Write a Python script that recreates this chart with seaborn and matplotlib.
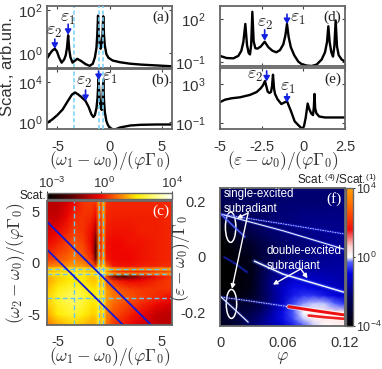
import numpy as np
import pandas as pd
import matplotlib
matplotlib.use("Agg")
import matplotlib.pyplot as plt
from matplotlib.colors import LinearSegmentedColormap
from matplotlib.patches import Ellipse
import seaborn as sns

# ---- curves (x, log10 of scattered intensity)
a_x = [-6, -5.8, -5.6, -5.45, -5.25, -5.05, -4.85, -4.6, -4.35, -4.2, -4.08, -3.97, -3.86, -3.75, -3.55, -3.3, -3.1, -2.7, -2.3, -1.9, -1.6, -1.4, -1.25, -1.17, -1.1, -1.03, -0.95, -0.85, -0.75, -0.67, -0.6, -0.53, -0.45, -0.3, -0.1, 0.3, 1, 2, 3, 4.5, 6]
a_y = [-0.25, -0.1, 0.05, 0.13, 0.2, 0.08, -0.2, -0.45, -0.3, -0.1, 0.25, 0.83, 0.15, -0.2, -0.45, -0.35, -0.27, -0.38, -0.52, -0.6, -0.5, -0.2, 0.25, 0.9, 1.75, 0.9, 0.45, 0.2, 0.4, 0.85, 1.72, 0.85, 0.35, -0.05, -0.22, -0.35, -0.43, -0.5, -0.54, -0.58, -0.62]
b_x = [-6, -5.5, -5, -4.5, -4, -3.6, -3.3, -3, -2.7, -2.3, -2, -1.75, -1.55, -1.4, -1.25, -1.15, -1.05, -0.95, -0.85, -0.75, -0.67, -0.6, -0.53, -0.45, -0.3, -0.15, 0, 0.3, 0.6, 1, 2, 3, 4.5, 6]
b_y = [-0.1, 0.25, 0.7, 1.25, 2.1, 2.75, 2.95, 2.75, 2.5, 2.1, 1.5, 0.8, 0.5, 0.7, 1.4, 2.4, 4.3, 2.4, 1.4, 1.2, 2.2, 4.2, 2.2, 1.0, 0.1, -0.3, -0.55, -0.72, -0.72, -0.55, -0.35, -0.28, -0.25, -0.25]
d_x = [-5, -4.6, -4.2, -3.9, -3.72, -3.6, -3.48, -3.38, -3.28, -3.2, -3.13, -3.06, -2.98, -2.88, -2.75, -2.55, -2.32, -2.1, -1.85, -1.62, -1.4, -1.2, -1.08, -0.98, -0.88, -0.75, -0.55, -0.3, -0.1, 0.2, 0.5, 0.8, 1.1, 1.3, 1.42, 1.5, 1.58, 1.68, 1.78, 1.86, 1.94, 2.02, 2.12, 2.3, 2.5]
d_y = [-0.55, -0.7, -0.72, -0.55, -0.2, 0.4, 1.66, 0.2, -0.35, -0.45, 0.2, 2.5, 0.45, -0.02, -0.05, 0.1, 0.43, 0.05, -0.2, -0.3, -0.15, 0.25, 0.85, 1.66, 0.75, 0.05, -0.5, -0.95, -1.12, -1.22, -1.25, -1.15, -0.8, -0.3, 0.4, 1.5, 0.4, -0.3, -0.6, 0.1, 1.9, 0.1, -0.5, -0.8, -0.95]
e_x = [-5, -4.7, -4.3, -3.8, -3.2, -2.8, -2.55, -2.42, -2.3, -2.22, -2.14, -2.04, -1.94, -1.88, -1.82, -1.76, -1.7, -1.55, -1.32, -1.15, -0.98, -0.88, -0.75, -0.52, -0.3, -0.06, 0.04, 0.14, 0.26, 0.36, 0.48, 0.58, 0.63, 0.67, 0.71, 0.78, 0.95, 1.3, 2.5]
e_y = [1.15, 1.4, 1.55, 1.65, 1.9, 2.2, 2.6, 2.9, 3.35, 2.8, 2.25, 2.1, 2.2, 2.8, 4.0, 2.6, 2.0, 1.45, 0.95, 1.1, 1.25, 0.8, 0.25, -0.85, -1.25, -1.65, -1.35, -0.5, 1.0, 0.4, -0.05, -0.2, 0.6, 2.0, 0.5, 0.0, -0.35, -0.45, -0.45]

# ---- panel (c) map: log10 scattering, symmetric in omega1/omega2 (lower triangle)
c_grid = [-6, -5, -4, -3.4, -2.5, -1.7, -1.3, -1.02, -0.82, -0.6, -0.3, 0.3, 1, 2, 3, 4.5, 6]
c_rows = [
 [1.0],
 [1.4, 2.0],
 [1.7, 2.3, 2.5],
 [1.8, 2.4, 2.7, 2.8],
 [1.6, 2.1, 2.4, 2.5, 2.3],
 [1.4, 1.8, 2.0, 2.1, 2.0, 1.7],
 [1.5, 1.8, 2.0, 2.1, 2.0, 1.7, 1.8],
 [2.1, 2.4, 2.5, 2.6, 2.5, 2.3, 2.5, 2.9],
 [1.5, 1.7, 1.8, 1.9, 1.8, 1.5, 1.6, 2.6, 1.8],
 [2.1, 2.3, 2.4, 2.5, 2.4, 2.2, 2.3, 3.0, 2.7, 3.0],
 [1.0, 1.2, 1.3, 1.4, 1.3, 0.9, 0.5, 2.0, 1.2, 2.2, 1.0],
 [0.5, 0.7, 0.9, 1.1, 0.9, 0.4, -1.2, 1.5, 0.5, 1.7, 0.2, 0.0],
 [0.2, 0.5, 0.7, 0.9, 0.7, 0.1, -1.9, 1.3, 0.3, 1.5, 0.1, 0.0, 0.0],
 [0.0, 0.2, 0.5, 0.7, 0.5, -0.1, -1.5, 1.2, 0.2, 1.4, 0.1, 0.0, 0.0, 0.1],
 [-0.3, 0.0, 0.3, 0.5, 0.4, 0.0, -0.8, 1.2, 0.2, 1.4, 0.2, 0.1, 0.1, 0.1, 0.2],
 [-0.5, -0.5, 0.0, 0.3, 0.4, 0.3, 0.0, 1.2, 0.4, 1.5, 0.3, 0.2, 0.2, 0.2, 0.2, 0.2],
 [-0.6, -0.6, -0.3, 0.0, 0.4, 0.5, 0.4, 1.3, 0.6, 1.6, 0.4, 0.3, 0.3, 0.3, 0.3, 0.3, 0.3],
]
c_marks = [-3.4, -1.05, -0.6]
c_sums = [-2.0, -4.7]

# ---- panel (f) map: log10 ratio
f_phi = [0, .01, .02, .03, .04, .05, .06, .07, .08, .09, .10, .11, .12]
f_eps = [.25, .2, .15, .1, .05, 0, -.05, -.08, -.11, -.14, -.17, -.2, -.225, -.25]
f_map = [
 [-2.5, -2.4, -2.4, -2.4, -2.3, -2.3, -2.3, -2.2, -2.2, -2.2, -2.2, -2.2, -2.2],
 [-2.6, -2.5, -2.4, -2.4, -2.3, -2.3, -2.2, -2.2, -2.2, -2.2, -2.2, -2.1, -2.1],
 [-3.0, -2.6, -2.5, -2.4, -2.3, -2.2, -2.1, -2.1, -2.0, -2.0, -2.0, -2.0, -2.0],
 [-3.8, -3.4, -3.0, -2.6, -2.4, -2.2, -2.1, -2.0, -2.0, -1.9, -1.9, -1.9, -1.9],
 [-4.0, -3.8, -3.5, -3.2, -2.8, -2.5, -2.3, -2.2, -2.1, -2.0, -1.9, -1.8, -1.8],
 [-4.0, -3.9, -3.7, -3.5, -3.0, -2.6, -2.4, -2.2, -2.1, -2.0, -1.9, -1.8, -1.8],
 [-4.0, -4.0, -3.8, -3.6, -2.8, -2.2, -1.8, -1.6, -1.6, -1.6, -1.6, -1.6, -1.6],
 [-4.0, -4.0, -3.8, -3.6, -2.7, -2.0, -1.6, -1.2, -1.2, -1.3, -1.4, -1.5, -1.6],
 [-4.0, -4.0, -3.8, -3.6, -2.7, -1.9, -1.3, -0.9, -0.9, -1.0, -1.2, -1.3, -1.4],
 [-3.8, -3.8, -3.7, -3.4, -2.7, -2.0, -1.3, -0.8, -0.6, -0.6, -0.8, -1.0, -1.2],
 [-3.2, -3.2, -3.2, -3.1, -2.6, -1.9, -1.2, -0.5, -0.2, -0.1, -0.1, -0.3, -0.6],
 [-3.3, -3.2, -3.0, -2.8, -2.3, -1.6, -0.9, -0.4, 0.0, 0.2, 0.3, 0.3, 0.3],
 [-3.4, -3.2, -2.9, -2.5, -2.0, -1.4, -0.9, -0.5, -0.1, 0.2, 0.3, 0.3, 0.5],
 [-3.4, -3.2, -2.8, -2.3, -1.9, -1.6, -1.2, -0.8, -0.4, -0.1, 0.0, 0.1, 0.2],
]
# ridge lines of panel (f): phi, eps
r1_phi, r1_eps = [0.001, 0.0605, 0.1185], [0.155, 0.12, 0.084]
r2_phi, r2_eps = [0.001, 0.0605, 0.1185], [0.155, 0.095, 0.029]
r3_phi, r3_eps = [0.001, 0.012, 0.024], [0.155, 0.115, 0.073]
r4_phi, r4_eps = [0.004, 0.015, 0.026], [0.0, -0.025, -0.055]
r5_phi, r5_eps = [0.033, 0.0605, 0.1185], [-0.015, -0.062, -0.127]
r6_phi, r6_eps = [0.001, 0.03, 0.066], [-0.145, -0.16, -0.18]
r7_phi, r7_eps = [0.001, 0.014, 0.027], [-0.145, -0.19, -0.236]
r8_phi, r8_eps = [0.066, 0.09, 0.1195], [-0.18, -0.194, -0.21]
r9_phi, r9_eps = [0.085, 0.10, 0.1195], [-0.212, -0.218, -0.224]

tick_ab = [-5, 0, 5]
tick_de = [-5, -2.5, 0, 2.5]
tick_de_labels = ["-5", "-2.5", "0", "2.5"]
tick_f_phi = [0, 0.06, 0.12]
tick_f_phi_labels = ["0", "0.06", "0.12"]
tick_f_eps = [-0.2, 0, 0.2]
tick_f_eps_labels = ["-0.2", "0", "0.2"]

sns.set_style("white")
plt.rcParams.update({
    "font.family": ["Liberation Sans", "DejaVu Sans"],
    "mathtext.fontset": "cm",
    "axes.unicode_minus": False,
    "text.color": "#333333",
    "axes.labelcolor": "#333333",
    "xtick.color": "#333333",
    "ytick.color": "#333333",
})

W, H = 382, 369
fig = plt.figure(figsize=(W / 100, H / 100), dpi=100)


def box(x0, y0, x1, y1):
    ax = fig.add_axes([x0 / W, 1 - y1 / H, (x1 - x0) / W, (y1 - y0) / H])
    for s in ax.spines.values():
        s.set_visible(True)
        s.set_color("#666666")
        s.set_linewidth(1.3)
    ax.tick_params(direction="in", length=2, width=0.8, labelsize=10.5,
                   bottom=True, left=True, top=True, right=True, color="#444444")
    ax.tick_params(axis="x", pad=7)
    ax.tick_params(axis="y", pad=3)
    return ax


def sup(n):
    return "10$^{\\mathregular{%s}}$" % n


def curve(ax, xs, ys, xlim, ylim, yticks):
    df = pd.DataFrame({"x": xs, "y": 10.0 ** np.array(ys)})
    sns.lineplot(data=df, x="x", y="y", ax=ax, color="black", lw=1.7,
                 estimator=None, sort=False, errorbar=None)
    ax.set_yscale("log")
    ax.set_xlim(*xlim)
    ax.set_ylim(10.0 ** ylim[0], 10.0 ** ylim[1])
    ax.set_yticks([10.0 ** t for t in yticks])
    ax.set_yticklabels([sup(t) for t in yticks], fontsize=11)
    ax.minorticks_off()
    ax.set_xlabel("")
    ax.set_ylabel("")


def arrow(ax, x, y0, y1):
    ax.annotate("", xy=(x, 10.0 ** y1), xytext=(x, 10.0 ** y0),
                arrowprops=dict(arrowstyle="-|>,head_width=0.18,head_length=0.3",
                                color="#1420e0", lw=1.2, shrinkA=0, shrinkB=0))


def eps(px, py, s):
    fig.text(px / W, 1 - py / H, s, fontsize=13, color="#222222", ha="center", va="center")


def tag(ax, s, color="#222222", y=0.82, x=0.98):
    ax.text(x, y, s, transform=ax.transAxes, family="Liberation Serif", fontsize=11,
            ha="right", va="center", color=color)


E1, E2 = r"$\varepsilon_1$", r"$\varepsilon_2$"
XL = r"$(\omega_1-\omega_0)/(\varphi\Gamma_0)$"
lab_kw = dict(fontsize=12.5, labelpad=-4)

# panel a
a = box(47, 6, 172, 68)
curve(a, a_x, a_y, (-6, 6), (-0.7, 2.2), [0, 2])
for m in c_marks:
    a.axvline(m, color="#7fd3f2", ls=(0, (2.5, 1.5)), lw=1.2, zorder=1 if m < -2 else 3)
a.set_xticks(tick_ab)
a.set_xticklabels([])
arrow(a, -5.25, 0.65, 0.2)
arrow(a, -3.97, 1.35, 0.85)
eps(54, 32, E2)
eps(68, 18, E1)
tag(a, "(a)")

# panel b
b = box(47, 69, 172, 129)
curve(b, b_x, b_y, (-6, 6), (-0.7, 5.3), [0, 4])
b.tick_params(axis="x", pad=8)
for m in c_marks:
    b.axvline(m, color="#7fd3f2", ls=(0, (2.5, 1.5)), lw=1.2, zorder=1 if m < -2 else 3)
b.set_xticks(tick_ab)
b.set_xticklabels([str(t) for t in tick_ab])
b.set_xlabel(XL, **lab_kw)
arrow(b, -2.3, 3.2, 2.1)
arrow(b, -1.05, 5.1, 4.2)
eps(84, 82, E2)
eps(110, 77, E1)
tag(b, "(b)")
fig.text(8 / W, 1 - 67 / H, "Scat., arb.un.", rotation=90, fontsize=12, ha="center", va="center")

# panel d
d = box(220, 6, 345, 66)
curve(d, d_x, d_y, (-5, 2.5), (-1.25, 2.9), [-1, 2])
d.tick_params(axis="y", pad=10)
d.set_xticks(tick_de)
d.set_xticklabels([])
arrow(d, -2.32, 1.25, 0.5)
arrow(d, -0.98, 2.33, 1.65)
eps(265, 23, E2)
eps(298, 18, E1)
tag(d, "(d)", x=0.97)

# panel e
e = box(220, 68, 345, 129)
curve(e, e_x, e_y, (-5, 2.5), (-1.65, 4.7), [-1, 3])
e.tick_params(axis="y", pad=10)
e.tick_params(axis="x", pad=8)
e.set_xticks(tick_de)
e.set_xticklabels(tick_de_labels)
e.set_xlabel(r"$(\varepsilon-\omega_0)/(\varphi\Gamma_0)$", **lab_kw)
arrow(e, -2.2, 4.4, 3.3)
arrow(e, -0.98, 2.0, 1.1)
eps(255, 76, E2)
eps(288, 87, E1)
tag(e, "(e)", x=0.97)

# panel c
cm_c = LinearSegmentedColormap.from_list("c", [
    (0, "#000000"), (0.2, "#5a0000"), (0.42, "#ee0000"), (0.58, "#ff7a00"),
    (0.72, "#ffee00"), (0.88, "#ffff90"), (1, "#ffffff")])
n = len(c_grid)
Cm = np.zeros((n, n))
for i, row in enumerate(c_rows):
    for j, v in enumerate(row):
        Cm[i, j] = v
        Cm[j, i] = v
c = box(47, 201, 172, 325)
c.tick_params(axis="y", pad=5)
pc = c.pcolormesh(c_grid, c_grid, Cm, shading="gouraud", cmap=cm_c, vmin=-3, vmax=4, rasterized=True)
for m in c_marks:
    c.axvline(m, color="#6cc4ec", ls=(0, (3.5, 2)), lw=1.0)
    c.axhline(m, color="#6cc4ec", ls=(0, (3.5, 2)), lw=1.0)
for s in c_sums:
    c.plot([-6, s + 6], [s + 6, -6], color="#1018d8", lw=1.3)
c.set_xlim(-6, 6)
c.set_ylim(-6, 6)
c.set_xticks(tick_ab)
c.set_yticks(tick_ab)
c.set_xticklabels([str(t) for t in tick_ab])
c.set_yticklabels([str(t) for t in tick_ab])
c.set_xlabel(XL, fontsize=12.5, labelpad=-3)
c.set_ylabel(r"$(\omega_2-\omega_0)/(\varphi\Gamma_0)$", fontsize=12.5, labelpad=0)
tag(c, "(c)", color="white", y=0.92)

cc = fig.add_axes([47 / W, 1 - 199 / H, 125 / W, 6 / H])
cb = fig.colorbar(pc, cax=cc, orientation="horizontal", ticks=[-3, 0, 4])
cb.ax.xaxis.set_ticks_position("top")
cb.ax.set_xticklabels([])
cb.ax.tick_params(length=1.5, width=0.7)
for lbl, px in [(-3, 52), (0, 104), (4, 172)]:
    fig.text(px / W, 1 - 183 / H, sup(lbl), fontsize=9.5, ha="center", va="center")
cb.outline.set_edgecolor("#666666")
cb.outline.set_linewidth(1)
fig.text(46 / W, 1 - 196 / H, "Scat.", fontsize=8.5, ha="right", va="center", color="#222222")

# panel f
cm_f = LinearSegmentedColormap.from_list("f", [
    (0, "#000000"), (0.2, "#000060"), (0.38, "#0000e0"), (0.46, "#5060ff"),
    (0.5, "#ffffff"), (0.58, "#ffd0d0"), (0.7, "#f01010"), (0.85, "#ff6000"), (1, "#ffa000")])
f = box(220, 188, 345, 326)
f.tick_params(axis="y", pad=10)
pf = f.pcolormesh(f_phi, f_eps, np.array(f_map), shading="gouraud", cmap=cm_f, vmin=-4, vmax=4, rasterized=True)


def ridge(px, py, glow, core, lw=0.7, ls="-", glow_w=2.2, alpha=0.35):
    df = pd.DataFrame({"x": px, "y": py})
    sns.lineplot(data=df, x="x", y="y", ax=f, color=glow, lw=glow_w, alpha=alpha,
                 estimator=None, sort=False, errorbar=None)
    sns.lineplot(data=df, x="x", y="y", ax=f, color=core, lw=lw, ls=ls,
                 estimator=None, sort=False, errorbar=None)


ridge(r1_phi, r1_eps, "#2030ff", "#c8ccff", lw=0.6, ls=(0, (2, 1)))
ridge(r2_phi, r2_eps, "#4060ff", "#e8ecff", lw=0.8)
ridge(r3_phi, r3_eps, "#3040ff", "#6070ff", lw=0.8)
ridge(r4_phi, r4_eps, "#1020c0", "#1a28c8", lw=0.6)
ridge(r5_phi, r5_eps, "#4060ff", "#f0f3ff", lw=1.1, glow_w=3.2)
ridge(r6_phi, r6_eps, "#3040ff", "#d0d0ff", lw=0.6, ls=(0, (2, 1)))
ridge(r7_phi, r7_eps, "#4060ff", "#f0f3ff", lw=0.8)
ridge(r8_phi, r8_eps, "#ffffff", "#ee1010", lw=2.1, glow_w=3.6, alpha=0.6)
ridge(r9_phi, r9_eps, "#ffffff", "#f02020", lw=1.9, glow_w=3.4, alpha=0.6)
f.set_xlim(0, 0.12)
f.set_ylim(-0.25, 0.25)
f.set_xticks(tick_f_phi)
f.set_xticklabels(tick_f_phi_labels)
f.set_yticks(tick_f_eps)
f.set_yticklabels(tick_f_eps_labels)
f.set_xlabel(r"$\varphi$", fontsize=12.5, labelpad=0)
f.set_ylabel("")
fig.text(181 / W, 1 - 258 / H, r"$(\varepsilon-\omega_0)/\Gamma_0$", rotation=90,
         fontsize=12.5, ha="center", va="center")
f.add_patch(Ellipse((0.0102, 0.108), 0.010, 0.11, fill=False, ec="white", lw=1.1))
f.add_patch(Ellipse((0.0110, -0.17), 0.010, 0.105, fill=False, ec="white", lw=1.1))
for txt, x, y in [("single-excited", 0.0035, 0.228), ("subradiant", 0.0035, 0.175),
                  ("double-excited", 0.045, 0.022), ("subradiant", 0.045, -0.032)]:
    f.text(x, y, txt, color="white", fontsize=8.3, va="center")
W_ARR = dict(arrowstyle="-|>,head_width=0.13,head_length=0.25", color="white", lw=1.0, shrinkA=0, shrinkB=0)
f.annotate("", xy=(0.0163, 0.139), xytext=(0.0270, 0.16), arrowprops=W_ARR)
f.annotate("", xy=(0.0115, -0.115), xytext=(0.0270, 0.16), arrowprops=W_ARR)
f.annotate("", xy=(0.0508, -0.10), xytext=(0.0775, -0.043), arrowprops=W_ARR)
f.annotate("", xy=(0.0840, -0.077), xytext=(0.0775, -0.043), arrowprops=W_ARR)
tag(f, "(f)", color="white", y=0.92, x=0.97)

cf = fig.add_axes([346 / W, 1 - 326 / H, 7 / W, 138 / H])
cb2 = fig.colorbar(pf, cax=cf, ticks=[-4, 0, 4])
cb2.ax.set_yticklabels([sup(-4), sup(0), sup(4)], fontsize=9)
cb2.ax.tick_params(length=1.5, pad=1, width=0.7)
cb2.outline.set_edgecolor("#666666")
cb2.outline.set_linewidth(1)
fig.text(377 / W, 1 - 180 / H, "Scat.$^{\\mathregular{(4)}}$/Scat.$^{\\mathregular{(1)}}$",
         fontsize=8.5, ha="right", va="center", color="#222222")

fig.savefig("out.png", dpi=100)
